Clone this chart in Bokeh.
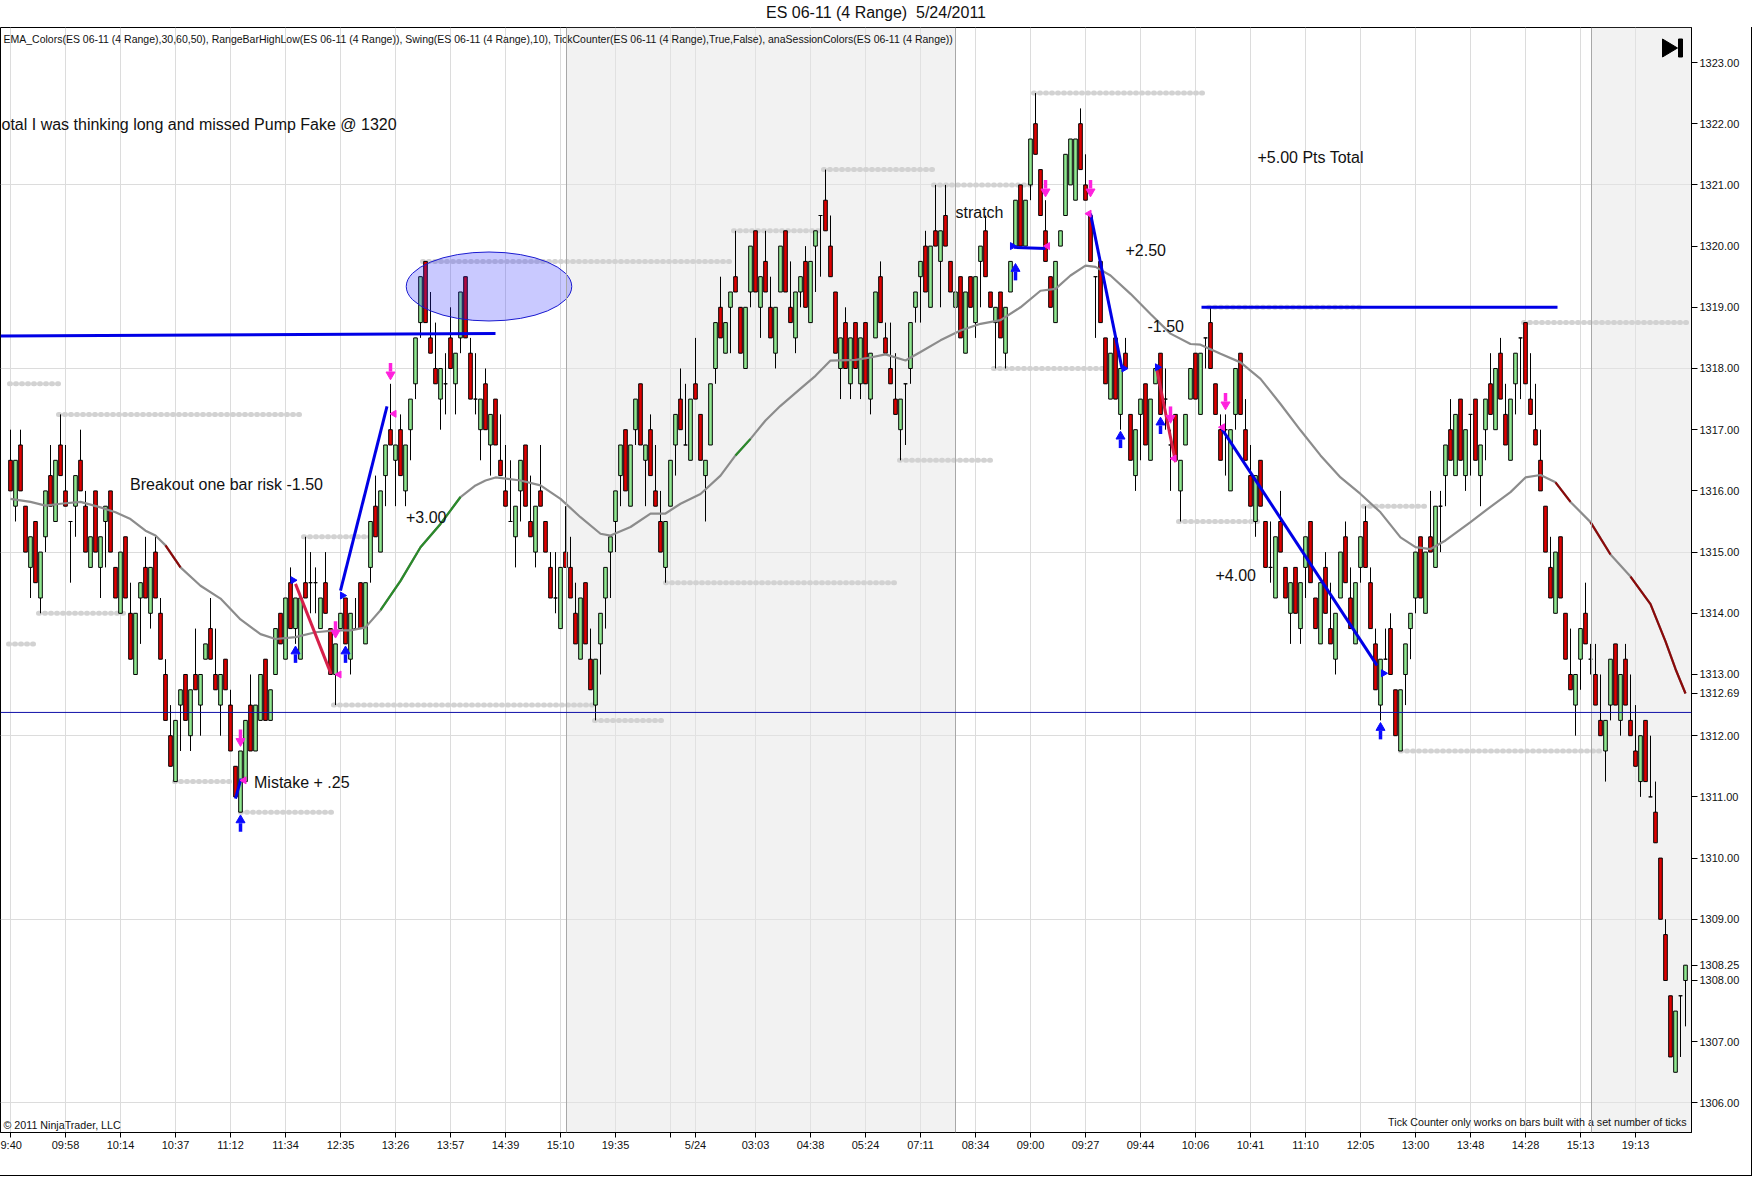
import numpy as np
from bokeh.plotting import figure
from bokeh.models import (FixedTicker, Span, BoxAnnotation, Div, PrintfTickFormatter, Range1d)
from bokeh.layouts import column
from bokeh.core.properties import value
from bokeh.embed import file_html
from bokeh.resources import INLINE

# ---------------- data ----------------
opens = [
 1316.5, 1315.75, 1316.75, 1315.75, 1314.75, 1315.5, 1314.25, 1315.25, 1316.25, 1315.5, 1316.75, 1316.0,
 1315.5, 1315.75, 1316.5, 1315.75, 1314.75, 1316.0, 1314.75, 1315.5, 1316.0, 1314.75, 1314.0, 1315.25,
 1314.0, 1313.0, 1314.25, 1314.75, 1314.0, 1315.0, 1314.0, 1313.0, 1312.0, 1311.25, 1312.5, 1313.0,
 1312.0, 1313.0, 1312.5, 1313.25, 1313.75, 1313.0, 1312.5, 1313.25, 1312.5, 1311.5, 1310.75, 1311.25,
 1312.5, 1311.75, 1312.25, 1313.25, 1312.25, 1313.0, 1314.0, 1313.25, 1314.5, 1313.75, 1313.25, 1314.5,
 1314.5, 1314.5, 1313.75, 1314.5, 1313.75, 1313.0, 1313.75, 1314.25, 1313.25, 1313.75, 1314.5, 1313.5,
 1314.75, 1315.75, 1315.0, 1316.25, 1317.0, 1316.5, 1317.0, 1316.0, 1317.0, 1317.75, 1318.75, 1319.75,
 1318.5, 1318.0, 1317.5, 1317.75, 1318.5, 1317.75, 1318.5, 1319.5, 1318.25, 1317.5, 1317.0, 1317.75,
 1316.75, 1317.5, 1316.5, 1316.0, 1315.5, 1315.25, 1316.0, 1316.75, 1315.5, 1315.0, 1316.0, 1315.5,
 1314.75, 1314.25, 1313.75, 1315.0, 1314.75, 1314.0, 1313.25, 1314.5, 1313.25, 1312.5, 1313.5, 1314.25,
 1315.0, 1315.5, 1316.25, 1317.0, 1315.75, 1317.0, 1317.75, 1316.5, 1317.0, 1316.0, 1315.5, 1314.75,
 1315.75, 1316.75, 1317.5, 1316.75, 1316.5, 1317.75, 1317.25, 1316.25, 1316.75, 1318.0, 1319.0, 1318.25,
 1319.0, 1319.5, 1319.0, 1318.0, 1319.25, 1320.25, 1319.0, 1319.75, 1319.0, 1318.25, 1319.25, 1320.25,
 1319.0, 1318.5, 1319.25, 1319.75, 1318.75, 1320.0, 1320.5, 1320.75, 1320.0, 1319.25, 1318.0, 1318.75,
 1317.75, 1318.75, 1317.75, 1318.75, 1317.5, 1318.5, 1319.5, 1318.5, 1318.0, 1317.5, 1317.0, 1317.75,
 1318.0, 1319.0, 1319.5, 1320.0, 1319.0, 1320.25, 1319.75, 1320.5, 1319.75, 1319.0, 1319.5, 1318.25,
 1319.5, 1318.75, 1319.75, 1320.25, 1319.25, 1318.75, 1319.25, 1318.25, 1319.25, 1320.0, 1321.0, 1320.0,
 1321.0, 1322.0, 1321.25, 1320.25, 1319.5, 1318.75, 1320.0, 1320.5, 1321.0, 1320.75, 1322.0, 1321.0,
 1320.5, 1319.5, 1319.75, 1318.5, 1317.5, 1318.5, 1317.25, 1318.25, 1317.25, 1316.25, 1317.25, 1317.75,
 1316.5, 1317.75, 1318.25, 1317.5, 1316.75, 1317.25, 1316.0, 1316.75, 1317.5, 1318.25, 1317.25, 1318.5,
 1318.75, 1317.75, 1317.0, 1317.0, 1316.0, 1317.25, 1318.25, 1317.0, 1316.25, 1315.5, 1316.5, 1315.5,
 1314.75, 1314.25, 1315.5, 1314.75, 1314.0, 1314.75, 1313.75, 1314.75, 1315.5, 1314.25, 1313.5, 1314.75,
 1313.75, 1313.25, 1314.25, 1315.25, 1314.25, 1313.5, 1314.75, 1315.5, 1314.5, 1313.5, 1312.5, 1313.25,
 1313.75, 1312.75, 1311.75, 1313.0, 1313.75, 1314.25, 1315.25, 1314.0, 1315.25, 1314.75, 1315.75, 1316.25,
 1317.0, 1316.25, 1317.5, 1316.25, 1317.25, 1317.5, 1316.25, 1317.0, 1317.75, 1317.0, 1318.25, 1317.25,
 1316.5, 1317.75, 1318.5, 1318.75, 1317.5, 1317.0, 1316.5, 1315.75, 1314.75, 1314.0, 1315.25, 1314.0,
 1313.0, 1312.5, 1313.25, 1314.0, 1313.25, 1313.0, 1312.25, 1311.75, 1312.5, 1313.5, 1312.25, 1313.25,
 1312.25, 1311.75, 1311.25, 1312.25, 1311.0, 1310.75, 1310.0, 1308.75, 1307.75, 1306.5, 1307.75, 1308.0]

highs = [
 1317.0, 1316.5, 1317.0, 1315.75, 1315.25, 1315.5, 1315.0, 1316.0, 1316.75, 1316.5, 1317.25, 1316.75,
 1315.5, 1316.25, 1317.0, 1316.0, 1315.25, 1316.0, 1315.25, 1315.75, 1316.0, 1314.75, 1315.0, 1315.25,
 1314.5, 1314.0, 1314.5, 1315.25, 1314.75, 1315.25, 1314.25, 1313.25, 1312.5, 1312.25, 1312.75, 1313.0,
 1312.75, 1313.75, 1313.0, 1313.5, 1314.25, 1313.75, 1313.0, 1313.25, 1312.75, 1311.5, 1311.75, 1312.25,
 1313.0, 1312.5, 1313.0, 1313.25, 1312.75, 1313.75, 1314.0, 1314.25, 1314.75, 1314.25, 1314.25, 1315.25,
 1315.0, 1314.75, 1314.25, 1315.0, 1313.75, 1313.5, 1314.0, 1314.25, 1314.0, 1314.25, 1314.5, 1314.5,
 1315.5, 1316.25, 1316.0, 1316.75, 1317.75, 1316.75, 1317.25, 1316.75, 1317.5, 1318.5, 1319.5, 1319.75,
 1319.25, 1318.75, 1318.0, 1318.25, 1319.0, 1318.25, 1319.25, 1319.5, 1318.5, 1318.25, 1317.5, 1318.0,
 1317.25, 1317.5, 1317.25, 1316.75, 1316.5, 1315.75, 1316.5, 1316.75, 1316.25, 1315.75, 1316.75, 1315.5,
 1315.0, 1315.0, 1314.75, 1315.75, 1315.25, 1314.5, 1314.25, 1314.5, 1313.75, 1313.25, 1314.0, 1314.75,
 1315.25, 1316.0, 1316.75, 1317.0, 1316.75, 1317.5, 1317.75, 1316.75, 1317.25, 1316.75, 1316.0, 1315.5,
 1316.5, 1317.25, 1318.0, 1317.75, 1317.5, 1318.5, 1317.25, 1316.5, 1317.75, 1318.75, 1319.5, 1318.75,
 1319.25, 1320.25, 1319.0, 1319.0, 1320.0, 1320.25, 1319.5, 1320.25, 1319.5, 1319.0, 1320.0, 1320.25,
 1319.75, 1319.25, 1319.5, 1320.0, 1319.75, 1320.25, 1320.5, 1321.25, 1320.5, 1319.25, 1318.5, 1319.0,
 1318.5, 1318.75, 1318.5, 1318.75, 1318.25, 1319.25, 1319.75, 1318.75, 1318.75, 1318.25, 1317.5, 1317.75,
 1318.75, 1319.25, 1319.75, 1320.25, 1320.0, 1321.0, 1320.25, 1321.0, 1319.75, 1319.25, 1319.5, 1319.25,
 1319.5, 1319.5, 1320.0, 1320.5, 1319.25, 1319.0, 1319.25, 1319.0, 1319.75, 1320.75, 1321.0, 1320.75,
 1321.75, 1322.5, 1321.25, 1320.75, 1319.5, 1319.75, 1320.25, 1321.5, 1321.75, 1321.75, 1322.25, 1321.5,
 1320.5, 1319.5, 1319.75, 1318.5, 1318.25, 1318.5, 1318.0, 1318.5, 1317.25, 1317.0, 1317.5, 1317.75,
 1317.5, 1318.0, 1318.25, 1318.0, 1317.0, 1317.25, 1316.5, 1317.25, 1318.0, 1318.25, 1318.25, 1318.5,
 1319.0, 1317.75, 1317.25, 1317.25, 1317.0, 1318.0, 1318.25, 1317.5, 1316.75, 1316.25, 1316.5, 1315.5,
 1315.5, 1315.25, 1316.0, 1314.75, 1314.5, 1314.75, 1314.5, 1315.25, 1315.5, 1314.25, 1314.5, 1315.0,
 1314.5, 1314.0, 1315.0, 1315.5, 1314.75, 1314.5, 1315.25, 1315.75, 1314.75, 1313.75, 1313.25, 1313.75,
 1314.0, 1312.75, 1312.75, 1313.5, 1314.0, 1315.0, 1315.25, 1315.0, 1316.0, 1315.75, 1316.0, 1316.75,
 1317.5, 1317.25, 1317.5, 1317.0, 1317.25, 1317.5, 1316.75, 1317.5, 1318.25, 1318.0, 1318.5, 1317.75,
 1317.5, 1318.25, 1318.5, 1318.75, 1318.25, 1317.75, 1317.0, 1315.75, 1315.25, 1315.0, 1315.25, 1314.0,
 1313.75, 1313.0, 1313.75, 1314.5, 1313.5, 1313.5, 1313.0, 1312.25, 1313.25, 1313.5, 1313.0, 1313.5,
 1313.0, 1312.5, 1312.0, 1312.25, 1312.0, 1311.25, 1310.0, 1309.0, 1307.75, 1307.5, 1307.75, 1308.25]

lows = [
 1316.0, 1315.5, 1316.0, 1315.0, 1314.25, 1314.5, 1314.0, 1315.0, 1315.75, 1315.5, 1316.25, 1315.75,
 1314.5, 1315.25, 1316.0, 1315.0, 1314.75, 1315.0, 1314.25, 1314.75, 1315.0, 1314.25, 1314.0, 1314.25,
 1313.25, 1313.0, 1313.5, 1314.25, 1313.75, 1314.25, 1313.25, 1312.25, 1311.5, 1311.25, 1311.75, 1312.25,
 1311.75, 1312.75, 1312.0, 1313.25, 1313.25, 1312.75, 1312.0, 1312.75, 1311.75, 1311.0, 1310.75, 1311.25,
 1311.75, 1311.75, 1312.25, 1312.25, 1312.25, 1313.0, 1313.5, 1313.25, 1313.75, 1313.5, 1313.25, 1314.25,
 1314.0, 1314.0, 1313.75, 1314.0, 1313.0, 1312.5, 1313.75, 1313.5, 1313.0, 1313.75, 1313.75, 1313.5,
 1314.5, 1315.25, 1315.0, 1315.75, 1316.75, 1315.75, 1316.25, 1315.75, 1316.5, 1317.5, 1318.5, 1318.75,
 1318.25, 1317.75, 1317.0, 1317.25, 1318.0, 1317.25, 1318.25, 1318.5, 1317.5, 1317.25, 1316.5, 1317.0,
 1316.25, 1316.75, 1316.25, 1315.75, 1315.5, 1314.75, 1315.5, 1315.75, 1315.25, 1314.75, 1315.75, 1315.0,
 1314.25, 1314.0, 1313.75, 1314.75, 1314.25, 1313.5, 1313.25, 1313.5, 1312.75, 1312.25, 1313.0, 1313.75,
 1314.25, 1315.0, 1315.75, 1316.0, 1315.75, 1316.75, 1316.75, 1315.75, 1316.25, 1315.75, 1315.0, 1314.5,
 1315.75, 1316.25, 1317.0, 1316.75, 1316.5, 1317.5, 1316.5, 1315.5, 1316.75, 1317.75, 1318.5, 1318.25,
 1318.25, 1319.25, 1318.25, 1318.0, 1319.0, 1319.25, 1318.5, 1319.25, 1318.5, 1318.0, 1319.25, 1319.25,
 1318.75, 1318.25, 1319.0, 1319.0, 1318.75, 1319.25, 1319.5, 1320.25, 1319.5, 1318.25, 1317.5, 1318.0,
 1317.5, 1318.0, 1317.5, 1317.75, 1317.25, 1318.5, 1318.75, 1318.25, 1317.75, 1317.25, 1316.5, 1316.75,
 1317.75, 1318.75, 1318.75, 1319.25, 1319.0, 1320.0, 1319.0, 1320.0, 1319.25, 1319.0, 1318.5, 1318.25,
 1319.0, 1318.5, 1319.0, 1319.5, 1319.0, 1318.0, 1318.5, 1318.0, 1319.25, 1320.0, 1320.0, 1320.0,
 1320.75, 1321.5, 1320.5, 1319.75, 1319.0, 1318.75, 1320.0, 1320.5, 1321.0, 1320.75, 1321.25, 1320.75,
 1319.75, 1318.5, 1318.75, 1317.75, 1317.5, 1317.5, 1317.0, 1318.0, 1316.5, 1316.0, 1316.5, 1316.75,
 1316.5, 1317.75, 1317.25, 1317.0, 1316.0, 1316.5, 1315.5, 1316.75, 1317.5, 1317.5, 1317.25, 1318.0,
 1318.0, 1317.25, 1316.5, 1316.25, 1316.0, 1317.0, 1317.25, 1316.5, 1315.75, 1315.25, 1315.75, 1314.75,
 1314.5, 1314.25, 1315.0, 1314.25, 1313.5, 1314.0, 1313.5, 1314.25, 1314.5, 1313.75, 1313.5, 1314.0,
 1313.5, 1313.0, 1314.25, 1314.5, 1313.75, 1313.5, 1314.5, 1314.75, 1313.75, 1312.75, 1312.25, 1313.25,
 1313.0, 1312.0, 1311.75, 1312.5, 1313.25, 1314.0, 1314.25, 1314.0, 1315.0, 1314.75, 1315.0, 1315.75,
 1316.5, 1316.25, 1316.5, 1316.0, 1316.25, 1316.5, 1315.75, 1316.5, 1317.25, 1317.0, 1317.5, 1316.75,
 1316.5, 1317.25, 1317.5, 1317.75, 1317.25, 1316.75, 1316.0, 1315.0, 1314.25, 1314.0, 1314.25, 1313.25,
 1312.75, 1312.0, 1312.75, 1313.5, 1313.0, 1312.5, 1312.0, 1311.25, 1312.25, 1312.5, 1312.0, 1312.5,
 1312.0, 1311.5, 1311.0, 1311.25, 1311.0, 1310.25, 1309.0, 1308.0, 1306.75, 1306.5, 1306.75, 1307.25]

closes = [
 1316.0, 1316.5, 1316.0, 1315.0, 1315.25, 1314.5, 1315.0, 1316.0, 1315.75, 1316.5, 1316.25, 1315.75,
 1315.5, 1316.25, 1316.0, 1315.0, 1315.25, 1315.0, 1315.25, 1315.75, 1315.0, 1314.25, 1315.0, 1314.25,
 1313.25, 1314.0, 1314.5, 1314.25, 1314.75, 1314.25, 1313.25, 1312.25, 1311.5, 1312.25, 1312.75, 1312.25,
 1312.75, 1312.75, 1313.0, 1313.5, 1313.25, 1312.75, 1313.0, 1312.75, 1311.75, 1311.0, 1311.75, 1312.25,
 1311.75, 1312.5, 1313.0, 1312.25, 1312.75, 1313.75, 1313.5, 1314.25, 1313.75, 1314.25, 1314.25, 1314.25,
 1314.5, 1314.5, 1314.25, 1314.0, 1313.0, 1313.5, 1314.0, 1313.5, 1314.0, 1313.75, 1313.75, 1314.5,
 1315.5, 1315.25, 1316.0, 1316.75, 1316.75, 1316.75, 1316.25, 1316.75, 1317.5, 1318.5, 1319.5, 1318.75,
 1318.25, 1317.75, 1318.0, 1317.75, 1318.0, 1318.25, 1319.25, 1318.5, 1317.5, 1317.5, 1317.5, 1317.0,
 1317.25, 1316.75, 1316.25, 1315.75, 1315.5, 1315.75, 1316.5, 1315.75, 1315.25, 1315.75, 1315.75, 1315.0,
 1314.25, 1314.25, 1314.75, 1314.75, 1314.25, 1313.5, 1314.25, 1313.5, 1312.75, 1313.25, 1314.0, 1314.75,
 1315.25, 1316.0, 1316.75, 1316.0, 1316.75, 1317.5, 1316.75, 1316.75, 1316.25, 1315.75, 1315.0, 1315.5,
 1316.5, 1317.25, 1317.0, 1316.75, 1317.5, 1317.5, 1316.5, 1316.5, 1317.75, 1318.75, 1318.5, 1318.75,
 1319.25, 1319.25, 1318.25, 1319.0, 1320.0, 1319.25, 1319.5, 1319.25, 1318.5, 1319.0, 1320.0, 1319.25,
 1318.75, 1319.25, 1319.5, 1319.0, 1319.75, 1320.25, 1320.5, 1320.25, 1319.5, 1318.25, 1318.5, 1318.0,
 1318.5, 1318.0, 1318.5, 1317.75, 1318.25, 1319.25, 1318.75, 1318.25, 1317.75, 1317.25, 1317.5, 1317.75,
 1318.75, 1319.25, 1319.75, 1319.25, 1320.0, 1320.0, 1320.25, 1320.0, 1319.25, 1319.25, 1318.5, 1319.25,
 1319.0, 1319.5, 1320.0, 1319.5, 1319.0, 1319.0, 1318.5, 1319.0, 1319.75, 1320.75, 1320.0, 1320.75,
 1321.75, 1321.5, 1320.5, 1319.75, 1319.0, 1319.75, 1320.25, 1321.5, 1321.75, 1321.75, 1321.25, 1320.75,
 1319.75, 1319.5, 1318.75, 1317.75, 1318.25, 1317.5, 1318.0, 1318.0, 1316.5, 1317.0, 1317.5, 1316.75,
 1317.5, 1318.0, 1317.25, 1317.5, 1316.75, 1316.5, 1316.5, 1317.25, 1318.0, 1317.5, 1318.25, 1318.5,
 1318.0, 1317.25, 1316.5, 1317.0, 1317.0, 1318.0, 1317.25, 1316.5, 1315.75, 1316.25, 1315.75, 1314.75,
 1314.75, 1315.25, 1315.0, 1314.25, 1314.5, 1314.0, 1314.5, 1315.25, 1314.5, 1313.75, 1314.5, 1314.0,
 1313.5, 1314.0, 1315.0, 1314.5, 1313.75, 1314.5, 1315.25, 1314.75, 1313.75, 1312.75, 1313.25, 1313.25,
 1313.0, 1312.0, 1312.75, 1313.5, 1314.0, 1315.0, 1314.25, 1315.0, 1315.0, 1315.75, 1315.75, 1316.75,
 1316.5, 1317.25, 1316.5, 1317.0, 1317.25, 1316.5, 1316.75, 1317.5, 1317.25, 1318.0, 1317.5, 1316.75,
 1317.5, 1318.25, 1318.5, 1317.75, 1317.25, 1316.75, 1316.0, 1315.0, 1314.25, 1315.0, 1314.25, 1313.25,
 1312.75, 1313.0, 1313.75, 1313.5, 1313.25, 1312.5, 1312.0, 1312.25, 1313.25, 1312.5, 1313.0, 1312.5,
 1312.0, 1311.5, 1312.0, 1311.25, 1311.0, 1310.25, 1309.0, 1308.0, 1306.75, 1307.5, 1307.75, 1308.25]

# EMA line (bar index, price)
ema_x = [0, 4, 7, 10, 14, 18, 21, 24, 27, 29, 31, 34, 38, 42, 46, 50, 53, 57, 61, 65, 68, 71, 74, 78,
         82, 86, 90, 93, 95, 97, 102, 106, 110, 114, 118, 120, 124, 128, 131, 134, 138, 142, 145, 148,
         151, 154, 158, 161, 164, 169, 172, 175, 179, 182, 186, 190, 194, 198, 202, 206, 209, 212, 215,
         217, 220, 224, 228, 232, 236, 238, 242, 246, 250, 254, 258, 262, 266, 270, 274, 278, 281, 284,
         287, 292, 296, 300, 303, 306, 309, 312, 316, 320, 324, 328, 331, 333, 335]
ema_y = [1315.87, 1315.82, 1315.76, 1315.79, 1315.82, 1315.73, 1315.65, 1315.54, 1315.35, 1315.27,
         1315.11, 1314.75, 1314.45, 1314.24, 1313.90, 1313.66, 1313.58, 1313.61, 1313.69, 1313.72,
         1313.72, 1313.77, 1314.05, 1314.53, 1315.08, 1315.46, 1315.90, 1316.09, 1316.17, 1316.22,
         1316.17, 1316.09, 1315.87, 1315.57, 1315.30, 1315.27, 1315.41, 1315.63, 1315.63, 1315.79,
         1315.95, 1316.25, 1316.58, 1316.85, 1317.15, 1317.39, 1317.67, 1317.88, 1318.13, 1318.14,
         1318.18, 1318.23, 1318.13, 1318.27, 1318.46, 1318.62, 1318.73, 1318.79, 1319.00, 1319.27,
         1319.30, 1319.52, 1319.68, 1319.66, 1319.52, 1319.22, 1318.89, 1318.57, 1318.40, 1318.39,
         1318.24, 1318.10, 1317.83, 1317.42, 1316.99, 1316.58, 1316.22, 1315.95, 1315.65, 1315.24,
         1315.08, 1315.05, 1315.19, 1315.49, 1315.74, 1315.98, 1316.22, 1316.26, 1316.14, 1315.82,
         1315.49, 1314.96, 1314.60, 1314.15, 1313.54, 1313.09, 1312.69]
ema_green_spans = [(74, 90), (145, 148)]
ema_red_spans = [(31, 34), (309, 312), (316, 320), (324, 335)]

# RangeBarHighLow levels: price, first bar, last bar
level_price = [1317.75, 1317.25, 1314.0, 1313.5, 1311.25, 1310.75, 1315.25, 1312.5, 1312.25, 1319.75,
               1320.25, 1321.25, 1321.0, 1322.5, 1316.5, 1314.5, 1318.0, 1315.5, 1319.0, 1315.75,
               1311.75, 1318.75]
level_x0 = [-0.2, 9.6, 5.6, -0.4, 32.8, 46.0, 58.6, 64.6, 116.8, 82.4,
            144.6, 162.6, 184.6, 204.6, 177.8, 131.0, 196.6, 233.6, 239.6, 270.6,
            278.0, 302.6]
level_x1 = [9.6, 58.4, 23.6, 5.6, 44.6, 64.6, 72.0, 116.8, 130.4, 144.8,
            161.6, 184.6, 204.0, 239.2, 196.6, 177.8, 218.6, 249.4, 270.6, 283.6,
            318.6, 335.6]

# hand-drawn trade lines: x0, y0, x1, y1, colour
draw_x0 = [-2.0, 238.2, 66.0, 57.0, 45.0, 200.7, 216.0, 229.3, 242.3]
draw_y0 = [1318.53, 1319.0, 1314.37, 1314.48, 1310.97, 1319.98, 1320.53, 1317.97, 1317.01]
draw_x1 = [97.0, 309.4, 75.3, 64.1, 46.1, 207.0, 222.3, 233.0, 273.3]
draw_y1 = [1318.57, 1319.0, 1317.38, 1313.01, 1311.30, 1319.96, 1318.0, 1316.47, 1313.15]
draw_col = ["#0000e6", "#0000e6", "#0000e6", "#d6204a", "#0000e6", "#0000e6", "#0000e6", "#d6204a", "#0000e6"]

# highlighted ellipse (centre bar, centre price, width in bars, height in points)
ell_x, ell_y, ell_w, ell_h = 95.7, 1319.34, 33.1, 1.127

# swing arrows
up_x = [46, 57, 67, 201, 222, 230, 274]
up_y = [1310.55, 1313.31, 1313.31, 1319.56, 1316.82, 1317.05, 1312.06]
dn_x = [46, 76, 65, 207, 216, 232, 243]
dn_y = [1311.98, 1317.97, 1313.75, 1320.96, 1320.96, 1317.26, 1317.48]
tri_b_x = [56.5, 66.4, 200.4, 222.7, 229.4, 274.6]
tri_b_y = [1314.54, 1314.29, 1320.0, 1318.0, 1318.02, 1313.02]
tri_m_x = [76.7, 65.7, 46.7, 207.4, 215.7, 232.7, 242.4]
tri_m_y = [1317.26, 1313.0, 1311.27, 1320.0, 1320.53, 1316.53, 1317.04]

# notes
note_text = ["otal I was thinking long and missed Pump Fake @ 1320", "+5.00 Pts Total", "stratch",
             "+2.50", "-1.50", "Breakout one bar risk -1.50", "+3.00", "+4.00", "Mistake + .25"]
note_x = [-1.8, 249.4, 189.0, 223.0, 227.4, 23.9, 79.1, 241.0, 48.7]
note_y = [1321.99, 1321.44, 1320.55, 1319.93, 1318.69, 1316.10, 1315.57, 1314.63, 1311.24]

hline_price = 1312.38
session_breaks = [111.2, 189.0, 316.2]
shade_spans = [(111.2, 189.0), (316.2, None)]

tick_pos = [0, 11, 22, 33, 44, 55, 66, 77, 88, 99, 110, 121, 132, 137, 149, 160, 171, 182, 193, 204,
            215, 226, 237, 248, 259, 270, 281, 292, 303, 314, 325]
tick_lab = ["9:40", "09:58", "10:14", "10:37", "11:12", "11:34", "12:35", "13:26", "13:57", "14:39",
            "15:10", "19:35", "", "5/24", "03:03", "04:38", "05:24", "07:11", "08:34", "09:00", "09:27",
            "09:44", "10:06", "10:41", "11:10", "12:05", "13:00", "13:48", "14:28", "15:13", "19:13"]
price_ticks = list(range(1306, 1324))
price_grid = [1306, 1309, 1312, 1315, 1318, 1321]

TITLE = "ES 06-11 (4 Range)&nbsp; 5/24/2011"
INDICATORS = ("EMA_Colors(ES 06-11 (4 Range),30,60,50), RangeBarHighLow(ES 06-11 (4 Range)), "
              "Swing(ES 06-11 (4 Range),10), TickCounter(ES 06-11 (4 Range),True,False), "
              "anaSessionColors(ES 06-11 (4 Range))")
COPYRIGHT = "\u00a9 2011 NinjaTrader, LLC"
TICKNOTE = "Tick Counter only works on bars built with a set number of ticks"

# ---------------- figure ----------------
FONT = "Liberation Sans"
PAGE_W = 1752
TITLE_H = 27
W, H = PAGE_W, 1149
FRAME_W, FRAME_H = 1691, 1105
X0, X1 = -2.0, 336.2
Y0, Y1 = 1305.516, 1323.572

o = np.array(opens); c = np.array(closes)
h = np.maximum(np.array(highs), np.maximum(o, c))
l = np.minimum(np.array(lows), np.minimum(o, c))
x = np.arange(len(c))
body_col = np.where(c > o, "#8fe88f", np.where(c < o, "#e00000", "#000000"))

p = figure(width=W, height=H, x_range=Range1d(X0, X1), y_range=Range1d(Y0, Y1), title=None,
           y_axis_location="right", toolbar_location=None, output_backend="svg",
           min_border_left=0, min_border_top=0, min_border_right=W - FRAME_W,
           min_border_bottom=H - FRAME_H, margin=(0, 0, 0, 0))
p.background_fill_color = "white"
p.border_fill_color = "white"
p.outline_line_color = "black"
p.outline_line_width = 1
p.styles = {"border-right": "1px solid black", "border-bottom": "1px solid black",
            "box-sizing": "border-box"}

# session shading & lines
for a, b in shade_spans:
    if b is None:
        p.add_layout(BoxAnnotation(left=a, fill_color="#e6e6e6", fill_alpha=0.5, line_alpha=0, level="underlay"))
    else:
        p.add_layout(BoxAnnotation(left=a, right=b, fill_color="#e6e6e6", fill_alpha=0.5, line_alpha=0, level="underlay"))
for s in session_breaks:
    p.add_layout(Span(location=s, dimension="height", line_color="#a8a8a8", line_width=1))

# grid
p.xgrid.ticker = FixedTicker(ticks=tick_pos)
p.ygrid.ticker = FixedTicker(ticks=price_grid)
p.xgrid.grid_line_color = "#dcdcdc"
p.ygrid.grid_line_color = "#dcdcdc"

# range bar high/low levels (beaded)
p.segment(level_x0, level_price, level_x1, level_price, line_color="#d2d2d2", line_width=5,
          line_cap="round", line_dash="1 5")

# thin horizontal line
p.add_layout(Span(location=hline_price, dimension="width", line_color="#1010a8", line_width=1))

# candles
p.segment(x, h, x, l, line_color="black", line_width=1)
p.vbar(x=x, width=0.72, top=np.maximum(o, c), bottom=np.minimum(o, c),
       fill_color=body_col, line_color="black", line_width=1)

# EMA
ex = np.array(ema_x); ey = np.array(ema_y)
p.line(ex, ey, line_color="#8c8c8c", line_width=2.2)
for a, b in ema_green_spans:
    m = (ex >= a) & (ex <= b)
    p.line(ex[m], ey[m], line_color="#2a8a2a", line_width=2.2)
for a, b in ema_red_spans:
    m = (ex >= a) & (ex <= b)
    p.line(ex[m], ey[m], line_color="#8b0a0a", line_width=2.2)

# trade lines
p.segment(draw_x0, draw_y0, draw_x1, draw_y1, line_color=draw_col, line_width=3)

# ellipse
p.ellipse(x=[ell_x], y=[ell_y], width=[ell_w], height=[ell_h], fill_color="#2828ff", fill_alpha=0.25,
          line_color="#1a1ad0", line_width=1)

# arrows
ux = np.array(up_x); uy = np.array(up_y)
p.segment(ux, uy - 0.12, ux, uy + 0.02, line_color="#0a0aff", line_width=3.5)
p.scatter(ux, uy + 0.07, marker="triangle", size=9, fill_color="#0a0aff", line_color="#0a0aff")
dx_ = np.array(dn_x); dy_ = np.array(dn_y)
p.segment(dx_, dy_ + 0.12, dx_, dy_ - 0.02, line_color="#ff22dd", line_width=3.5)
p.scatter(dx_, dy_ - 0.07, marker="inverted_triangle", size=9, fill_color="#ff22dd", line_color="#ff22dd")
p.scatter(tri_b_x, tri_b_y, marker="triangle", size=7, angle=-np.pi / 2,
          fill_color="#0a0aff", line_color="#0a0aff")
p.scatter(tri_m_x, tri_m_y, marker="triangle", size=7, angle=np.pi / 2,
          fill_color="#ff22dd", line_color="#ff22dd")

# notes
p.text(x=note_x, y=note_y, text=note_text, text_font=value(FONT), text_font_size="16px",
       text_baseline="middle", text_align="left", text_color="#111111")

# page-pixel helpers for decorative items (frame starts at page x=0, y=27)
def px_x(px):
    return X0 + (X1 - X0) * px / FRAME_W

def px_y(py):
    return Y1 - (Y1 - Y0) * (py - TITLE_H) / FRAME_H

p.text(x=[px_x(3)], y=[px_y(38)], text=[INDICATORS], text_font=value(FONT), text_font_size="10.5px",
       text_baseline="middle", text_align="left", text_color="#111111")
p.text(x=[px_x(3)], y=[px_y(1124)], text=[COPYRIGHT], text_font=value(FONT), text_font_size="10.7px",
       text_baseline="middle", text_align="left", text_color="#111111")
p.text(x=[px_x(1686)], y=[px_y(1121)], text=[TICKNOTE], text_font=value(FONT), text_font_size="10.7px",
       text_baseline="middle", text_align="right", text_color="#111111")

# "go to end" icon
p.patch([px_x(1662), px_x(1662), px_x(1677)], [px_y(38.5), px_y(56.5), px_y(47.5)], color="black")
p.quad(left=[px_x(1678)], right=[px_x(1682)], top=[px_y(38.5)], bottom=[px_y(56.5)], color="black")

# axes (last EMA value and last close are marked on the price axis)
p.yaxis.ticker = FixedTicker(ticks=price_ticks + [ema_y[-1], closes[-1]])
p.yaxis.formatter = PrintfTickFormatter(format="%.2f")
p.yaxis.major_label_text_font = FONT
p.yaxis.major_label_text_font_size = "11px"
p.yaxis.major_label_text_color = "#111111"
p.yaxis.major_tick_out = 6
p.yaxis.major_tick_in = 0
p.yaxis.minor_tick_out = 0
p.yaxis.minor_tick_in = 0
p.yaxis.major_label_standoff = 2
p.yaxis.axis_line_color = "black"

p.xaxis.ticker = FixedTicker(ticks=tick_pos)
p.xaxis.major_label_overrides = {t: s for t, s in zip(tick_pos, tick_lab)}
p.xaxis.major_label_text_font = FONT
p.xaxis.major_label_text_font_size = "11px"
p.xaxis.major_label_text_color = "#111111"
p.xaxis.major_tick_out = 5
p.xaxis.major_tick_in = 0
p.xaxis.minor_tick_out = 0
p.xaxis.minor_tick_in = 0
p.xaxis.major_label_standoff = 1
p.xaxis.axis_line_color = "black"

title = Div(text=TITLE, width=W, height=TITLE_H, margin=(0, 0, 0, 0),
            styles={"text-align": "center", "font-family": FONT, "font-size": "16px",
                    "line-height": "25px", "color": "#111111"})

layout = column(title, p, spacing=0, margin=(0, 0, 0, 0))
open("out.html", "w").write(file_html(layout, INLINE))
